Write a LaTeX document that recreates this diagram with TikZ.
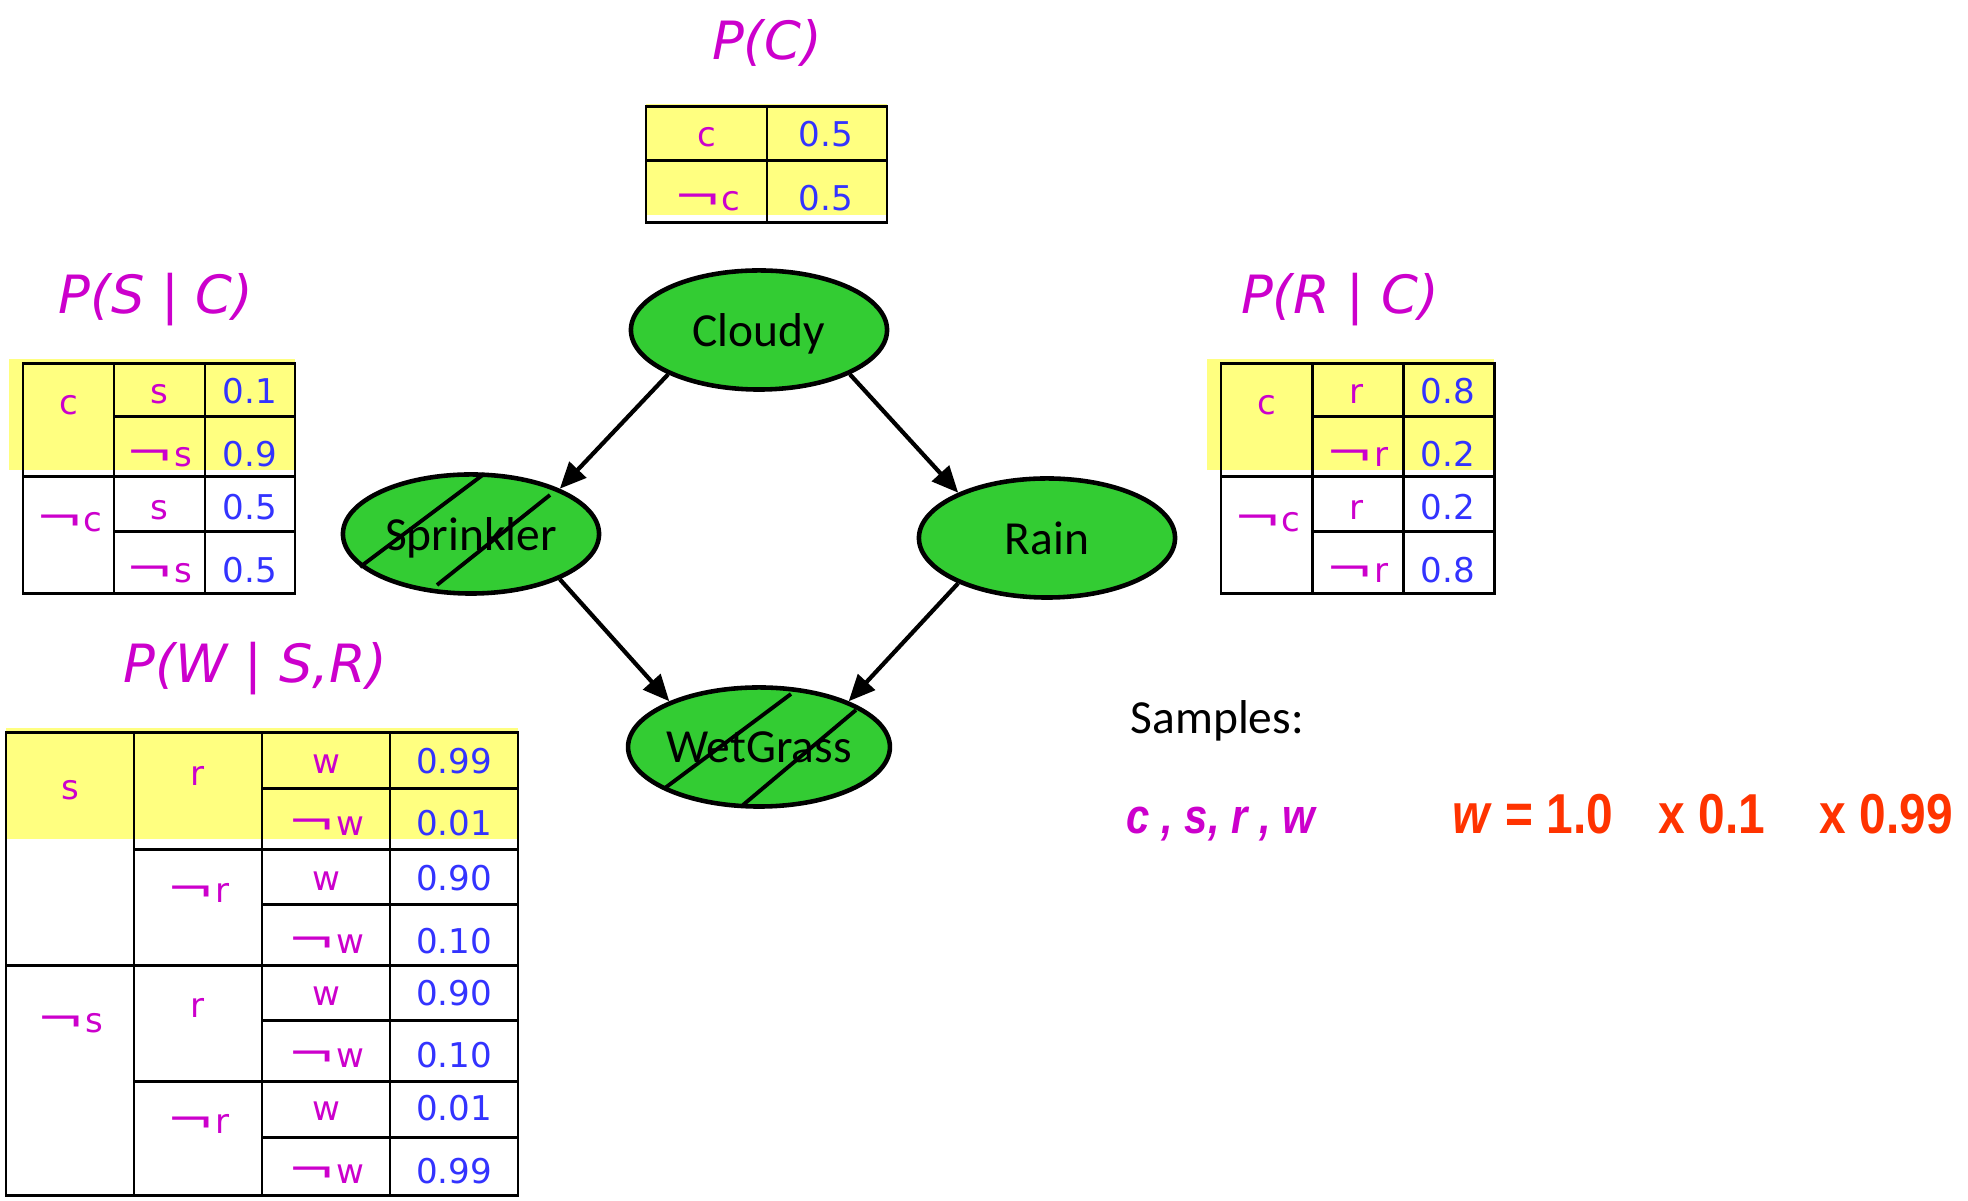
\documentclass[tikz,border=0pt]{standalone}
\usepackage{fontspec}
\setmainfont{DejaVu Sans}
\newfontfamily\nodefont{Carlito}
\newfontfamily\narrowfont[FakeStretch=0.85]{Liberation Sans}
\usetikzlibrary{arrows.meta,shapes.geometric}

\definecolor{cptmagenta}{RGB}{204,0,204}
\definecolor{cptblue}{RGB}{51,51,255}
\definecolor{cptyellow}{RGB}{255,255,128}
\definecolor{nodegreen}{RGB}{51,204,51}
\definecolor{weightred}{RGB}{255,51,0}

% wide negation sign as in the tables
\newcommand{\nt}{\scalebox{1.7}[1.15]{¬}}

\begin{document}
\begin{tikzpicture}[
    x=0.01cm, y=-0.01cm,
    bnode/.style={ellipse, draw, line width=1.3pt, fill=nodegreen, minimum width=2.56cm, minimum height=1.19cm, inner sep=0pt, text depth=0pt, font=\nodefont\fontsize{13.5}{16}\selectfont},
    arrow/.style={-{Triangle[length=7.5pt,width=6.5pt]}, line width=1.2pt},
    hatchline/.style={line width=1.1pt},
    tabline/.style={line width=0.85pt},
    hilite/.style={fill=cptyellow},
    cpttitle/.style={anchor=base, text=cptmagenta, font=\itshape\fontsize{15}{18}\selectfont},
    cond/.style={anchor=base, text=cptmagenta, font=\fontsize{9.7}{11}\selectfont},
    prob/.style={anchor=base, text=cptblue, font=\fontsize{9.7}{11}\selectfont},
    sampletext/.style={anchor=base west, inner sep=0pt, font=\narrowfont\bfseries\fontsize{16}{19}\selectfont}
]
\useasboundingbox (0,0) rectangle (1968,1201);

% P(C)
\node[cpttitle] (pcT) at (767,60) {P(C)};
\fill[hilite] (646,104) rectangle (887,215);
\draw[tabline] (646,107) rectangle (887,223) (646,161) -- (887,161) (767,107) -- (767,223);
\node[cond] (pc1) at (707,147) {c};
\node[prob] (pc1v) at (826,147) {0.5};
\node[cond] (pc2) at (707,211) {\nt c};
\node[prob] (pc2v) at (826,211) {0.5};

% P(S | C)
\node[cpttitle] (psT) at (156,314) {P(S {\upshape|} C)};
\fill[hilite] (9,359) rectangle (295,470);
\draw[tabline] (23,364) rectangle (295,594) (114,364) -- (114,594) (205,364) -- (205,594)
    (23,477) -- (295,477) (114,417) -- (295,417) (114,532) -- (295,532);
\node[cond] (ps-c) at (69,415) {c};
\node[cond] (ps-nc) at (69,532) {\nt c};
\node[cond] (ps-s1) at (159,404) {s};
\node[cond] (ps-ns1) at (159,467) {\nt s};
\node[cond] (ps-s2) at (159,520) {s};
\node[cond] (ps-ns2) at (159,583) {\nt s};
\node[prob] (ps-v1) at (250,404) {0.1};
\node[prob] (ps-v2) at (250,467) {0.9};
\node[prob] (ps-v3) at (250,520) {0.5};
\node[prob] (ps-v4) at (250,583) {0.5};

% P(R | C)
\node[cpttitle] (prT) at (1340,314) {P(R {\upshape|} C)};
\fill[hilite] (1207,359) rectangle (1494,470);
\draw[tabline] (1221,364) rectangle (1494,594) (1312,364) -- (1312,594) (1403,364) -- (1403,594)
    (1221,477) -- (1494,477) (1312,417) -- (1494,417) (1312,532) -- (1494,532);
\node[cond] (pr-c) at (1267,415) {c};
\node[cond] (pr-nc) at (1267,532) {\nt c};
\node[cond] (pr-r1) at (1357,404) {r};
\node[cond] (pr-nr1) at (1357,467) {\nt r};
\node[cond] (pr-r2) at (1357,520) {r};
\node[cond] (pr-nr2) at (1357,583) {\nt r};
\node[prob] (pr-v1) at (1448,404) {0.8};
\node[prob] (pr-v2) at (1448,467) {0.2};
\node[prob] (pr-v3) at (1448,520) {0.2};
\node[prob] (pr-v4) at (1448,583) {0.8};

% P(W | S,R)
\node[cpttitle] (pwT) at (255,683) {P(W {\upshape|} S,R)};
\fill[hilite] (6,728) rectangle (518,839);
\draw[tabline] (6,733) rectangle (518,1196) (134,733) -- (134,1196) (262,733) -- (262,1196) (390,733) -- (390,1196)
    (6,966) -- (518,966) (134,850) -- (518,850) (134,1082) -- (518,1082)
    (262,789) -- (518,789) (262,905) -- (518,905) (262,1021) -- (518,1021) (262,1138) -- (518,1138);
\node[cond] (pw-s) at (70,800) {s};
\node[cond] (pw-ns) at (70,1033) {\nt s};
\node[cond] (pw-r1) at (198,786) {r};
\node[cond] (pw-nr1) at (198,903) {\nt r};
\node[cond] (pw-r2) at (198,1018) {r};
\node[cond] (pw-nr2) at (198,1134) {\nt r};
\node[cond] (pw-w1) at (326,774) {w};
\node[cond] (pw-nw1) at (326,836) {\nt w};
\node[cond] (pw-w2) at (326,891) {w};
\node[cond] (pw-nw2) at (326,954) {\nt w};
\node[cond] (pw-w3) at (326,1006) {w};
\node[cond] (pw-nw3) at (326,1068) {\nt w};
\node[cond] (pw-w4) at (326,1121) {w};
\node[cond] (pw-nw4) at (326,1184) {\nt w};
\node[prob] (pw-v1) at (454,774) {0.99};
\node[prob] (pw-v2) at (454,836) {0.01};
\node[prob] (pw-v3) at (454,891) {0.90};
\node[prob] (pw-v4) at (454,954) {0.10};
\node[prob] (pw-v5) at (454,1006) {0.90};
\node[prob] (pw-v6) at (454,1068) {0.10};
\node[prob] (pw-v7) at (454,1121) {0.01};
\node[prob] (pw-v8) at (454,1184) {0.99};

% Nodes
\node[bnode] (cloudy) at (759,330) {Cloudy};
\node[bnode] (sprinkler) at (471,534) {Sprinkler};
\node[bnode] (rain) at (1047,538) {Rain};
\node[bnode] (wetgrass) at (759,747) {WetGrass};

% Evidence marks
\draw[hatchline] ([shift={(-111,33)}]sprinkler.center) -- ([shift={(13,-60)}]sprinkler.center);
\draw[hatchline] ([shift={(-34,51)}]sprinkler.center) -- ([shift={(79,-39)}]sprinkler.center);
\draw[hatchline] ([shift={(-94,41)}]wetgrass.center) -- ([shift={(32,-53)}]wetgrass.center);
\draw[hatchline] ([shift={(-16,58)}]wetgrass.center) -- ([shift={(97,-37)}]wetgrass.center);

% Arrows
\draw[arrow] (cloudy.206) -- (sprinkler.27);
\draw[arrow] (cloudy.334) -- (rain.153);
\draw[arrow] (sprinkler.333) -- (wetgrass.153);
\draw[arrow] (rain.207) -- (wetgrass.27);

% Samples
\node[anchor=base west, inner sep=0pt, font=\nodefont\fontsize{13.5}{16}\selectfont] (samples) at (1130,734) {Samples:};
\node[sampletext, text=cptmagenta, font=\narrowfont\bfseries\itshape\fontsize{14}{17}\selectfont] (sample) at (1126,834) {c , s, r , w};
\node[sampletext, text=weightred] (weight) at (1452,834) {\textit{w} = 1.0};
\node[sampletext, text=weightred] (factor1) at (1658,834) {x 0.1};
\node[sampletext, text=weightred] (factor2) at (1819,834) {x 0.99};

\end{tikzpicture}
\end{document}
